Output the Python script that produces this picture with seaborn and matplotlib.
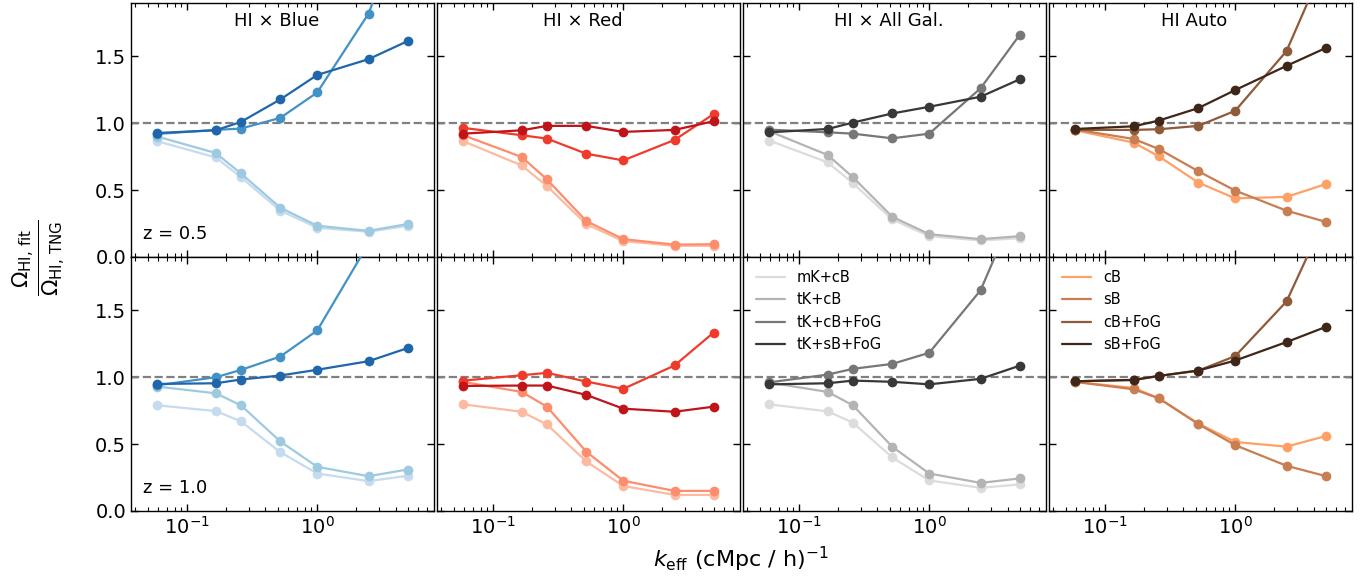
import numpy as np
import pandas as pd
import matplotlib
matplotlib.use("Agg")
import matplotlib.pyplot as plt
import seaborn as sns
from matplotlib.lines import Line2D

# k bins (cMpc/h)^-1
k_eff = [0.059, 0.166, 0.259, 0.52, 1.0, 2.48, 4.95]

# -------------------------
# HI x Blue
# -------------------------
blue_z05_mkcb = [0.865, 0.744, 0.596, 0.346, 0.218, 0.188, 0.233]
blue_z05_tkcb = [0.90, 0.777, 0.624, 0.368, 0.233, 0.195, 0.246]
blue_z05_tkcbfog = [0.92, 0.95, 0.96, 1.04, 1.23, 1.82, 2.6]
blue_z05_tksbfog = [0.927, 0.947, 1.01, 1.178, 1.361, 1.479, 1.614]

blue_z10_mkcb = [0.79, 0.747, 0.67, 0.44, 0.28, 0.223, 0.263]
blue_z10_tkcb = [0.93, 0.88, 0.79, 0.52, 0.33, 0.26, 0.31]
blue_z10_tkcbfog = [0.94, 1.0, 1.055, 1.155, 1.35, 2.0, 2.8]
blue_z10_tksbfog = [0.95, 0.955, 0.983, 1.013, 1.056, 1.12, 1.218]

# -------------------------
# HI x Red
# -------------------------
red_z05_mkcb = [0.865, 0.684, 0.53, 0.245, 0.118, 0.083, 0.083]
red_z05_tkcb = [0.91, 0.747, 0.58, 0.268, 0.133, 0.092, 0.095]
red_z05_tkcbfog = [0.965, 0.91, 0.885, 0.772, 0.722, 0.875, 1.068]
red_z05_tksbfog = [0.922, 0.947, 0.98, 0.98, 0.935, 0.95, 1.015]

red_z10_mkcb = [0.797, 0.742, 0.647, 0.37, 0.187, 0.12, 0.12]
red_z10_tkcb = [0.965, 0.89, 0.78, 0.443, 0.226, 0.15, 0.15]
red_z10_tkcbfog = [0.975, 1.015, 1.033, 0.968, 0.913, 1.088, 1.334]
red_z10_tksbfog = [0.935, 0.938, 0.938, 0.868, 0.765, 0.742, 0.78]

# -------------------------
# HI x All galaxies
# -------------------------
all_z05_mkcb = [0.87, 0.707, 0.551, 0.28, 0.155, 0.123, 0.14]
all_z05_tkcb = [0.94, 0.762, 0.596, 0.30, 0.17, 0.133, 0.155]
all_z05_tkcbfog = [0.952, 0.932, 0.922, 0.887, 0.922, 1.261, 1.659]
all_z05_tksbfog = [0.932, 0.957, 1.005, 1.073, 1.123, 1.198, 1.328]

all_z10_mkcb = [0.797, 0.745, 0.66, 0.40, 0.228, 0.173, 0.198]
all_z10_tkcb = [0.96, 0.89, 0.79, 0.48, 0.28, 0.21, 0.243]
all_z10_tkcbfog = [0.962, 1.02, 1.063, 1.10, 1.183, 1.65, 2.33]
all_z10_tksbfog = [0.947, 0.955, 0.975, 0.966, 0.947, 0.988, 1.086]

# -------------------------
# HI auto
# -------------------------
auto_z05_cb = [0.947, 0.855, 0.752, 0.556, 0.438, 0.449, 0.544]
auto_z05_sb = [0.953, 0.882, 0.807, 0.641, 0.496, 0.346, 0.263]
auto_z05_cbfog = [0.95, 0.95, 0.955, 0.98, 1.093, 1.54, 2.21]
auto_z05_sbfog = [0.957, 0.977, 1.02, 1.113, 1.248, 1.429, 1.562]

auto_z10_cb = [0.965, 0.92, 0.842, 0.654, 0.516, 0.481, 0.56]
auto_z10_sb = [0.965, 0.91, 0.842, 0.65, 0.492, 0.338, 0.261]
auto_z10_cbfog = [0.97, 0.98, 1.01, 1.05, 1.158, 1.567, 2.2]
auto_z10_sbfog = [0.97, 0.98, 1.01, 1.05, 1.125, 1.263, 1.376]

cross_labels = ["mK+cB", "tK+cB", "tK+cB+FoG", "tK+sB+FoG"]
auto_labels = ["cB", "sB", "cB+FoG", "sB+FoG"]
panel_titles = ["HI × Blue", "HI × Red", "HI × All Gal.", "HI Auto"]
z_labels = ["z = 0.5", "z = 1.0"]

blues = ["#c6dbef", "#9ecae1", "#4292c6", "#2066ac"]
reds = ["#fcbba1", "#fc8d6d", "#ef3b2c", "#c0141b"]
greys = ["#dcdcdc", "#b4b4b4", "#777777", "#383838"]
coppers = ["#ffa066", "#c87e50", "#8f5a39", "#3e2719"]

panels = [
    [(blue_z05_mkcb, blue_z05_tkcb, blue_z05_tkcbfog, blue_z05_tksbfog), blues, cross_labels],
    [(red_z05_mkcb, red_z05_tkcb, red_z05_tkcbfog, red_z05_tksbfog), reds, cross_labels],
    [(all_z05_mkcb, all_z05_tkcb, all_z05_tkcbfog, all_z05_tksbfog), greys, cross_labels],
    [(auto_z05_cb, auto_z05_sb, auto_z05_cbfog, auto_z05_sbfog), coppers, auto_labels],
]
panels_z10 = [
    (blue_z10_mkcb, blue_z10_tkcb, blue_z10_tkcbfog, blue_z10_tksbfog),
    (red_z10_mkcb, red_z10_tkcb, red_z10_tkcbfog, red_z10_tksbfog),
    (all_z10_mkcb, all_z10_tkcb, all_z10_tkcbfog, all_z10_tksbfog),
    (auto_z10_cb, auto_z10_sb, auto_z10_cbfog, auto_z10_sbfog),
]

sns.set_style("ticks")
plt.rcParams["font.family"] = ["DejaVu Sans"]
plt.rcParams["mathtext.fontset"] = "dejavusans"
for key in ["text.color", "axes.labelcolor", "xtick.color", "ytick.color", "axes.edgecolor"]:
    plt.rcParams[key] = "black"

fig, axes = plt.subplots(2, 4, figsize=(13.72, 5.78), dpi=100, sharex=True, sharey=True)
fig.subplots_adjust(left=0.0955, right=0.9854, top=0.995, bottom=0.116, wspace=0.01, hspace=0.0)

for col in range(4):
    series_z05, colors, labels = panels[col]
    series_z10 = panels_z10[col]
    for row, series in enumerate([series_z05, series_z10]):
        ax = axes[row, col]
        ax.axhline(1.0, color="grey", ls="--", lw=1.6, zorder=1)
        for vals, c in zip(series, colors):
            sns.lineplot(x=k_eff, y=vals, ax=ax, color=c, marker="o", markersize=7,
                         markeredgewidth=0, linewidth=1.6, zorder=3)
        ax.set_xscale("log")
        ax.set_xlim(0.037, 7.9)
        ax.set_ylim(0.0, 1.9)
        ax.set_yticks([0.0, 0.5, 1.0, 1.5])
        ax.tick_params(which="both", direction="in", top=True, right=True, labelsize=14)
        ax.tick_params(which="major", length=5, width=1)
        ax.tick_params(which="minor", length=3, width=0.8)
        ax.set_xlabel("")
        ax.set_ylabel("")
        for s in ax.spines.values():
            s.set_linewidth(1.0)
            s.set_color("black")
        if row == 0:
            ax.text(0.48, 0.93, panel_titles[col], transform=ax.transAxes,
                    ha="center", va="center", fontsize=13)
        if col == 0:
            ax.text(0.04, 0.09, z_labels[row], transform=ax.transAxes,
                    ha="left", va="center", fontsize=13)
        if row == 1 and col >= 2:
            handles = [Line2D([0], [0], color=c, lw=1.6) for c in colors]
            ax.legend(handles, labels, loc="upper left", frameon=False, fontsize=10.5,
                      handlelength=2.0, labelspacing=0.5, borderaxespad=0.5)

fig.text(0.54, 0.032, r"$k_{\rm eff}$ (cMpc / h)$^{-1}$", ha="center", va="center", fontsize=16)
fig.text(0.028, 0.555, r"$\frac{\Omega_{\rm HI,\,fit}}{\Omega_{\rm HI,\,TNG}}$",
         ha="center", va="center", rotation=90, fontsize=22)

plt.savefig("out.png", dpi=100)
plt.close()
